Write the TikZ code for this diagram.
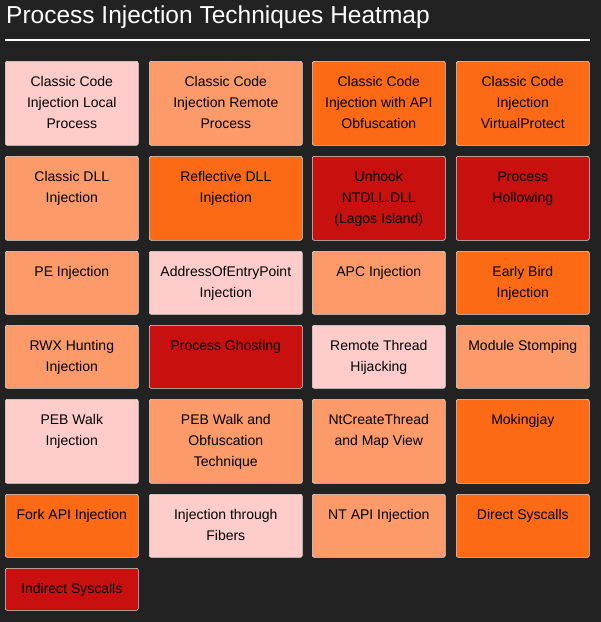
\documentclass[tikz,border=0pt]{standalone}
\usepackage{fontspec}
\setmainfont{Liberation Sans}
\definecolor{bg}{HTML}{222222}
\definecolor{cpink}{HTML}{FFCCCC}
\definecolor{csalmon}{HTML}{FC9A6A}
\definecolor{corange}{HTML}{FD6A16}
\definecolor{cred}{HTML}{C8100E}
\begin{document}
\begin{tikzpicture}[x=1pt,y=1pt,
  cell/.style={draw=white!85!black,line width=0.6pt,rounded corners=2pt,anchor=north west,minimum width=133pt,inner sep=0pt},
  wide/.style={minimum width=153pt},
  txt/.style={anchor=north,align=center,font=\fontsize{14}{21}\selectfont,text=black,inner sep=0pt}]
\fill[bg] (0,0) rectangle (601,-622);
\useasboundingbox (0,0) rectangle (601,-622);
\node[anchor=west,text=white,font=\fontsize{24.5}{28}\selectfont,inner sep=0pt] (title) at (6,-17) {Process Injection Techniques Heatmap};
\coordinate (la) at (5,-40); \coordinate (lb) at (590,-40);
\draw[white,line width=1.2pt] (la) -- (lb);
\newcommand\cellbox[7][]{%
  \node[cell,#1,fill=#5,minimum height=#6] (#2) at (#3,#4) {};
  \node[txt] (#2t) at ([yshift=-15.5pt]#2.north) {#7};}
% row 1
\cellbox{a1}{5}{-61}{cpink}{84pt}{Classic Code\\Injection Local\\Process}
\cellbox[wide]{a2}{149}{-61}{csalmon}{84pt}{Classic Code\\Injection Remote\\Process}
\cellbox{a3}{312}{-61}{corange}{84pt}{Classic Code\\Injection with API\\Obfuscation}
\cellbox{a4}{456}{-61}{corange}{84pt}{Classic Code\\Injection\\VirtualProtect}
% row 2
\cellbox{b1}{5}{-156}{csalmon}{84pt}{Classic DLL\\Injection}
\cellbox[wide]{b2}{149}{-156}{corange}{84pt}{Reflective DLL\\Injection}
\cellbox{b3}{312}{-156}{cred}{84pt}{Unhook\\NTDLL.DLL\\(Lagos Island)}
\cellbox{b4}{456}{-156}{cred}{84pt}{Process\\Hollowing}
% row 3
\cellbox{c1}{5}{-251}{csalmon}{63pt}{PE Injection}
\cellbox[wide]{c2}{149}{-251}{cpink}{63pt}{AddressOfEntryPoint\\Injection}
\cellbox{c3}{312}{-251}{csalmon}{63pt}{APC Injection}
\cellbox{c4}{456}{-251}{corange}{63pt}{Early Bird\\Injection}
% row 4
\cellbox{d1}{5}{-325}{csalmon}{63pt}{RWX Hunting\\Injection}
\cellbox[wide]{d2}{149}{-325}{cred}{63pt}{Process Ghosting}
\cellbox{d3}{312}{-325}{cpink}{63pt}{Remote Thread\\Hijacking}
\cellbox{d4}{456}{-325}{csalmon}{63pt}{Module Stomping}
% row 5
\cellbox{e1}{5}{-399}{cpink}{84pt}{PEB Walk\\Injection}
\cellbox[wide]{e2}{149}{-399}{csalmon}{84pt}{PEB Walk and\\Obfuscation\\Technique}
\cellbox{e3}{312}{-399}{csalmon}{84pt}{NtCreateThread\\and Map View}
\cellbox{e4}{456}{-399}{corange}{84pt}{Mokingjay}
% row 6
\cellbox{f1}{5}{-494}{corange}{63pt}{Fork API Injection}
\cellbox[wide]{f2}{149}{-494}{cpink}{63pt}{Injection through\\Fibers}
\cellbox{f3}{312}{-494}{csalmon}{63pt}{NT API Injection}
\cellbox{f4}{456}{-494}{corange}{63pt}{Direct Syscalls}
% row 7
\cellbox{g1}{5}{-568}{cred}{42pt}{Indirect Syscalls}
\end{tikzpicture}
\end{document}
